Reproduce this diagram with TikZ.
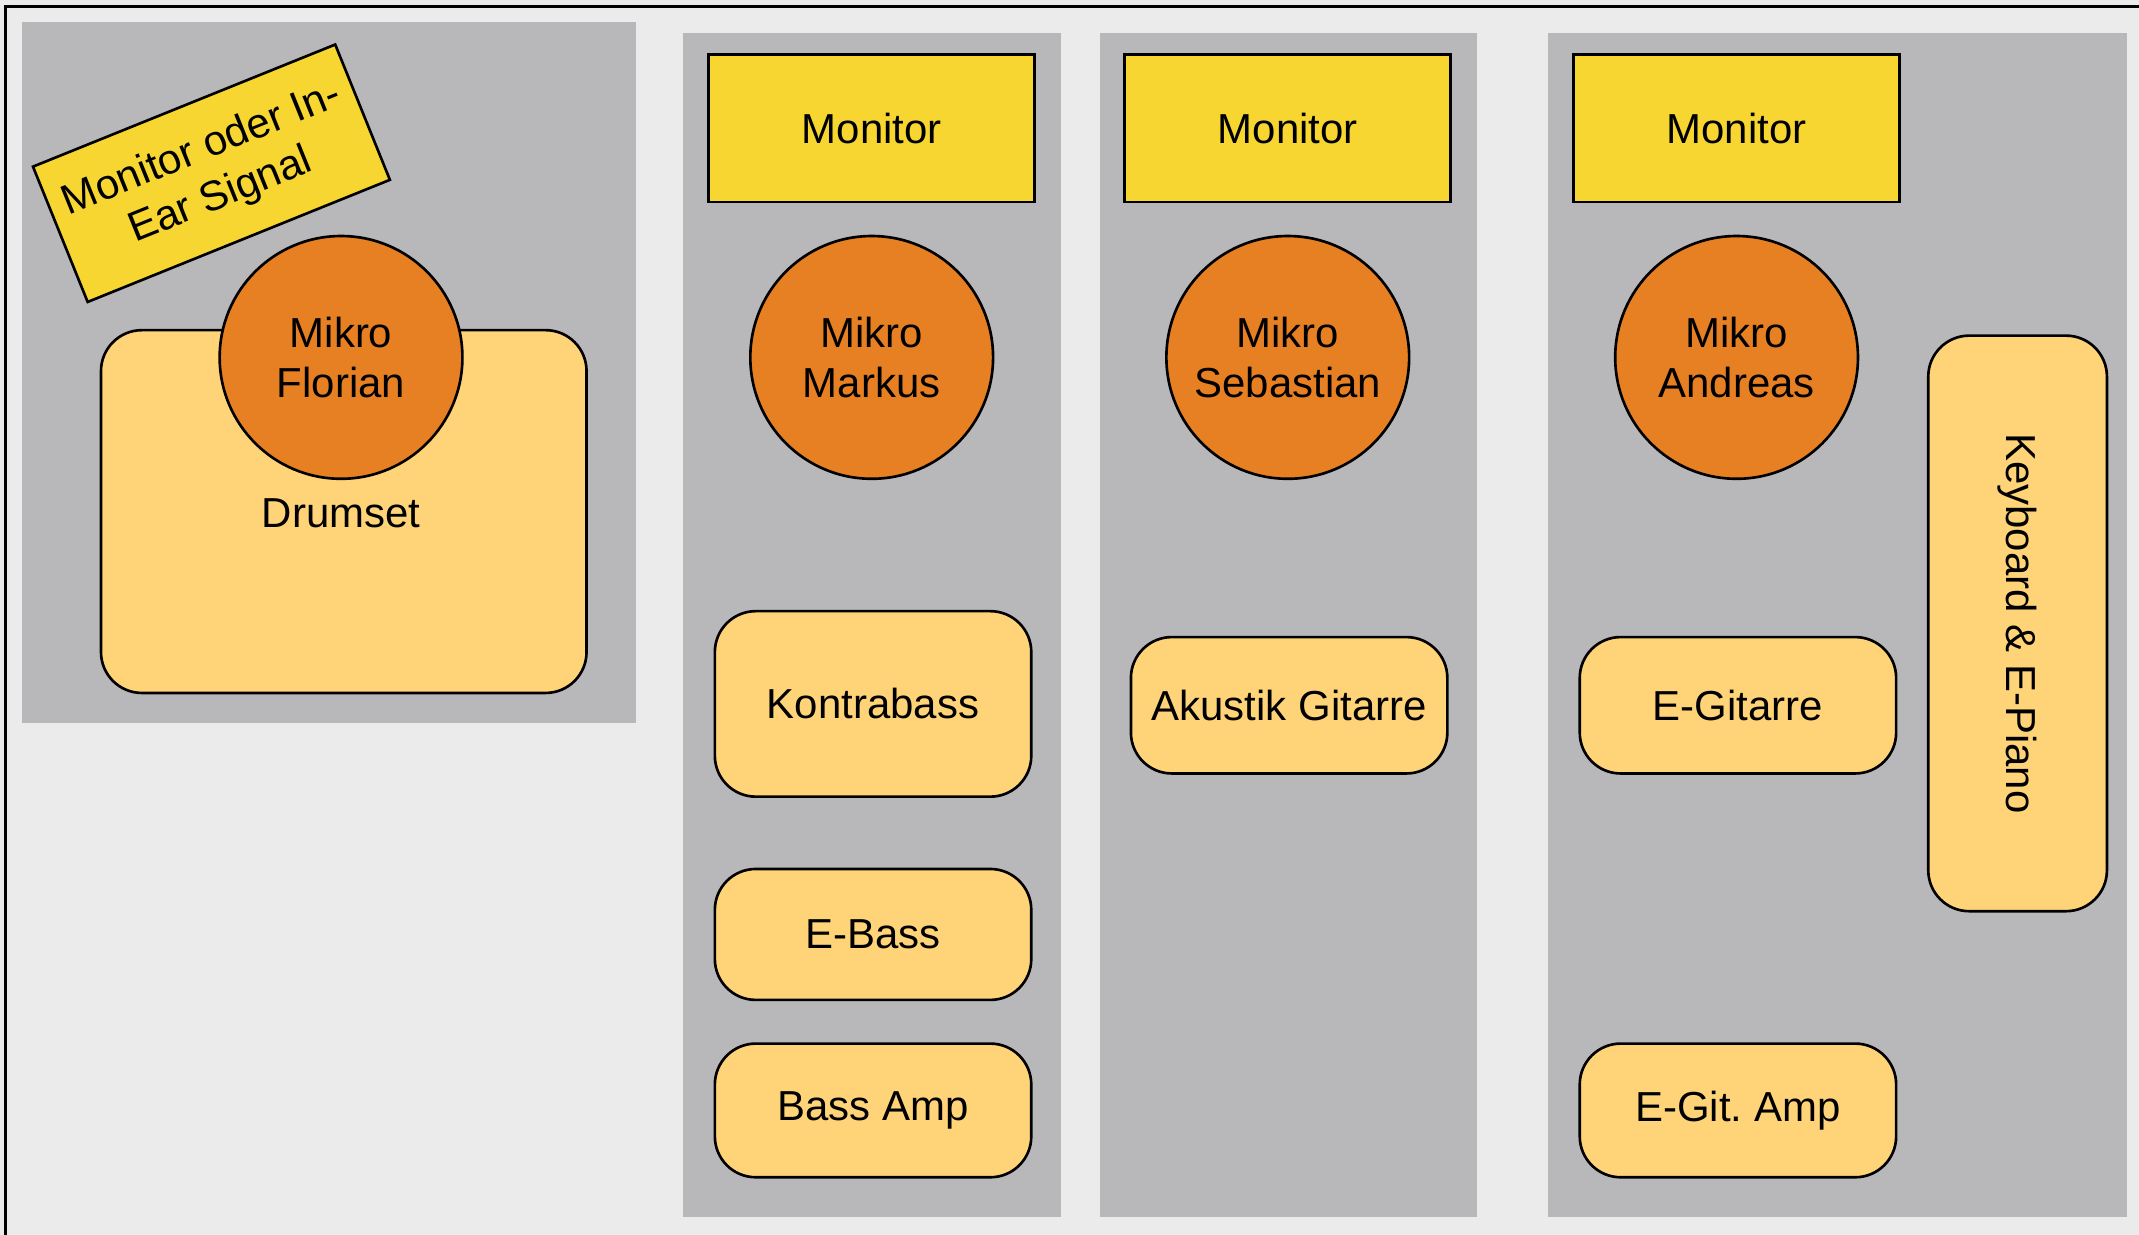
\documentclass[tikz,border=0pt]{standalone}
\usepackage{fontspec}
\setmainfont{Liberation Sans}
\usetikzlibrary{positioning}
\frenchspacing

\definecolor{stagebg}{HTML}{EBEBEB}
\definecolor{zone}{HTML}{B8B8BA}
\definecolor{monyellow}{HTML}{F7D631}
\definecolor{micorange}{HTML}{E78023}
\definecolor{instr}{HTML}{FFD479}

\tikzset{
  monbox/.style={draw=black, line width=1.1pt, fill=monyellow, minimum width=4.78cm, minimum height=2.16cm, inner sep=0pt, align=center},
  mic/.style={circle, draw=black, line width=1.1pt, fill=micorange, minimum size=3.56cm, inner sep=0pt, align=center},
  instbox/.style={draw=black, line width=1.1pt, fill=instr, rounded corners=0.6cm, minimum width=4.64cm, inner sep=0pt, align=center},
}

\begin{document}
\begin{tikzpicture}[x=0.02cm, y=-0.02cm, font=\fontsize{17.5}{21}\selectfont]
  \useasboundingbox (0,0) rectangle (1568,905);
  % stage background and frame
  \fill[stagebg] (0,0) rectangle (1568,905);
  \draw[line width=1.2pt] (4,905) -- (4,5) -- (1568,5);
  % zones
  \fill[zone] (16,16) rectangle (466,530);% drums
  \fill[zone] (501,24) rectangle (778,892);% Markus
  \fill[zone] (806,24) rectangle (1083,892);% Sebastian
  \fill[zone] (1135,24) rectangle (1559,892);% Andreas

  % drums: Florian
  \node[monbox, minimum width=4.78cm, minimum height=2.14cm, rotate=22] (inear) at (155,127) {Monitor oder In-\\Ear Signal};
  \node[instbox, minimum width=7.12cm, minimum height=5.32cm] (drums) at (252,375) {};
  \node[mic] (micflorian) at (250,262) {Mikro\\Florian};
  \node (drumlabel) at (250,376) {Drumset};

  % Markus
  \node[monbox] (monmarkus) at (639,94) {Monitor};
  \node[mic] (micmarkus) at (639,262) {Mikro\\Markus};
  \node[instbox, minimum height=2.72cm] (kontrabass) at (640,516) {Kontrabass};
  \node[instbox, minimum height=1.92cm] (ebass) at (640,685) {E-Bass};
  \node[instbox, minimum height=1.96cm] (bassamp) at (640,814) {Bass Amp};

  % Sebastian
  \node[monbox] (monsebastian) at (944,94) {Monitor};
  \node[mic] (micsebastian) at (944,262) {Mikro\\Sebastian};
  \node[instbox, minimum height=2cm] (akustik) at (945,517) {Akustik Gitarre};

  % Andreas
  \node[monbox] (monandreas) at (1273,94) {Monitor};
  \node[mic] (micandreas) at (1273,262) {Mikro\\Andreas};
  \node[instbox, minimum height=2cm] (egitarre) at (1274,517) {E-Gitarre};
  \node[instbox, minimum height=1.96cm] (egitamp) at (1274,814) {E-Git. Amp};
  \node[instbox, minimum width=2.62cm, minimum height=8.44cm] (keyboard) at (1479,457) {};
  \node[rotate=-90] (keylabel) at (keyboard) {Keyboard \& E-Piano};
\end{tikzpicture}
\end{document}
